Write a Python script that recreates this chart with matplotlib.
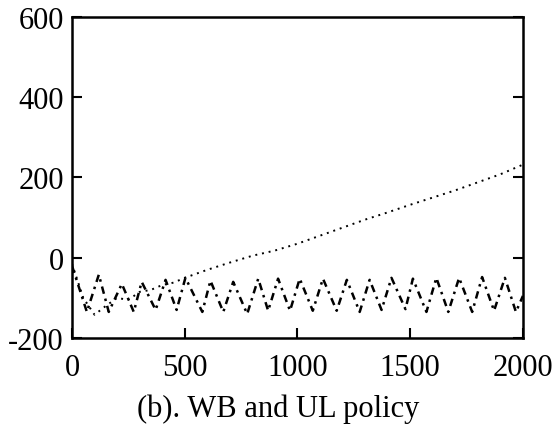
import matplotlib
matplotlib.use("Agg")
import matplotlib.pyplot as plt

plt.rcParams['font.family'] = ['Liberation Serif', 'DejaVu Serif']
plt.rcParams['axes.unicode_minus'] = False

# oscillating (dash-dot) series: extrema
osc_x = [0, 66, 119, 163, 221, 274, 309, 371, 415, 464, 503, 578, 614, 671, 715, 777,
         826, 870, 914, 967, 1010, 1068, 1113, 1174, 1219, 1276, 1320, 1373, 1417, 1479,
         1512, 1572, 1616, 1669, 1717, 1775, 1819, 1872, 1920, 1969, 2000]
osc_y = [-20, -135, -42, -135, -65, -135, -60, -130, -55, -130, -50, -135, -57, -135, -60, -140,
         -52, -132, -52, -132, -52, -132, -52, -132, -55, -135, -55, -130, -50, -128,
         -52, -135, -50, -135, -50, -135, -48, -132, -50, -135, -95]

# rising (dotted) series
trend_x = [0, 50, 100, 150, 200, 250, 300, 350, 400, 450, 500, 600, 700, 800, 900, 1000,
           1100, 1200, 1300, 1400, 1500, 1600, 1700, 1800, 1900, 2000]
trend_y = [-15, -100, -142, -120, -100, -105, -85, -80, -68, -62, -50, -30, -12, 5, 18, 35,
           55, 75, 95, 113, 132, 150, 168, 188, 208, 232]

xticks = [0, 500, 1000, 1500, 2000]
yticks = [-200, 0, 200, 400, 600]

fig = plt.figure(figsize=(5.56, 4.27), dpi=100)
ax = fig.add_axes([0.1295, 0.206, 0.811, 0.752])

ax.plot(osc_x, osc_y, color='black', linewidth=1.8, linestyle=(0, (3, 2, 1, 2)))
ax.plot(trend_x, trend_y, color='black', linewidth=1.4, linestyle=(0, (1, 2.5)))

ax.set_xlim(0, 2000)
ax.set_ylim(-200, 600)
ax.set_xticks(xticks)
ax.set_yticks(yticks)
ax.tick_params(direction='in', length=7, width=1.5, labelsize=22,
               right=True, top=False)
ax.tick_params(axis='x', pad=11)
ax.tick_params(axis='y', pad=6)
for sp in ax.spines.values():
    sp.set_linewidth(1.8)

fig.text(0.5, 0.042, '(b). WB and UL policy', ha='center', va='center', fontsize=22)

fig.savefig('out.png', dpi=100)
